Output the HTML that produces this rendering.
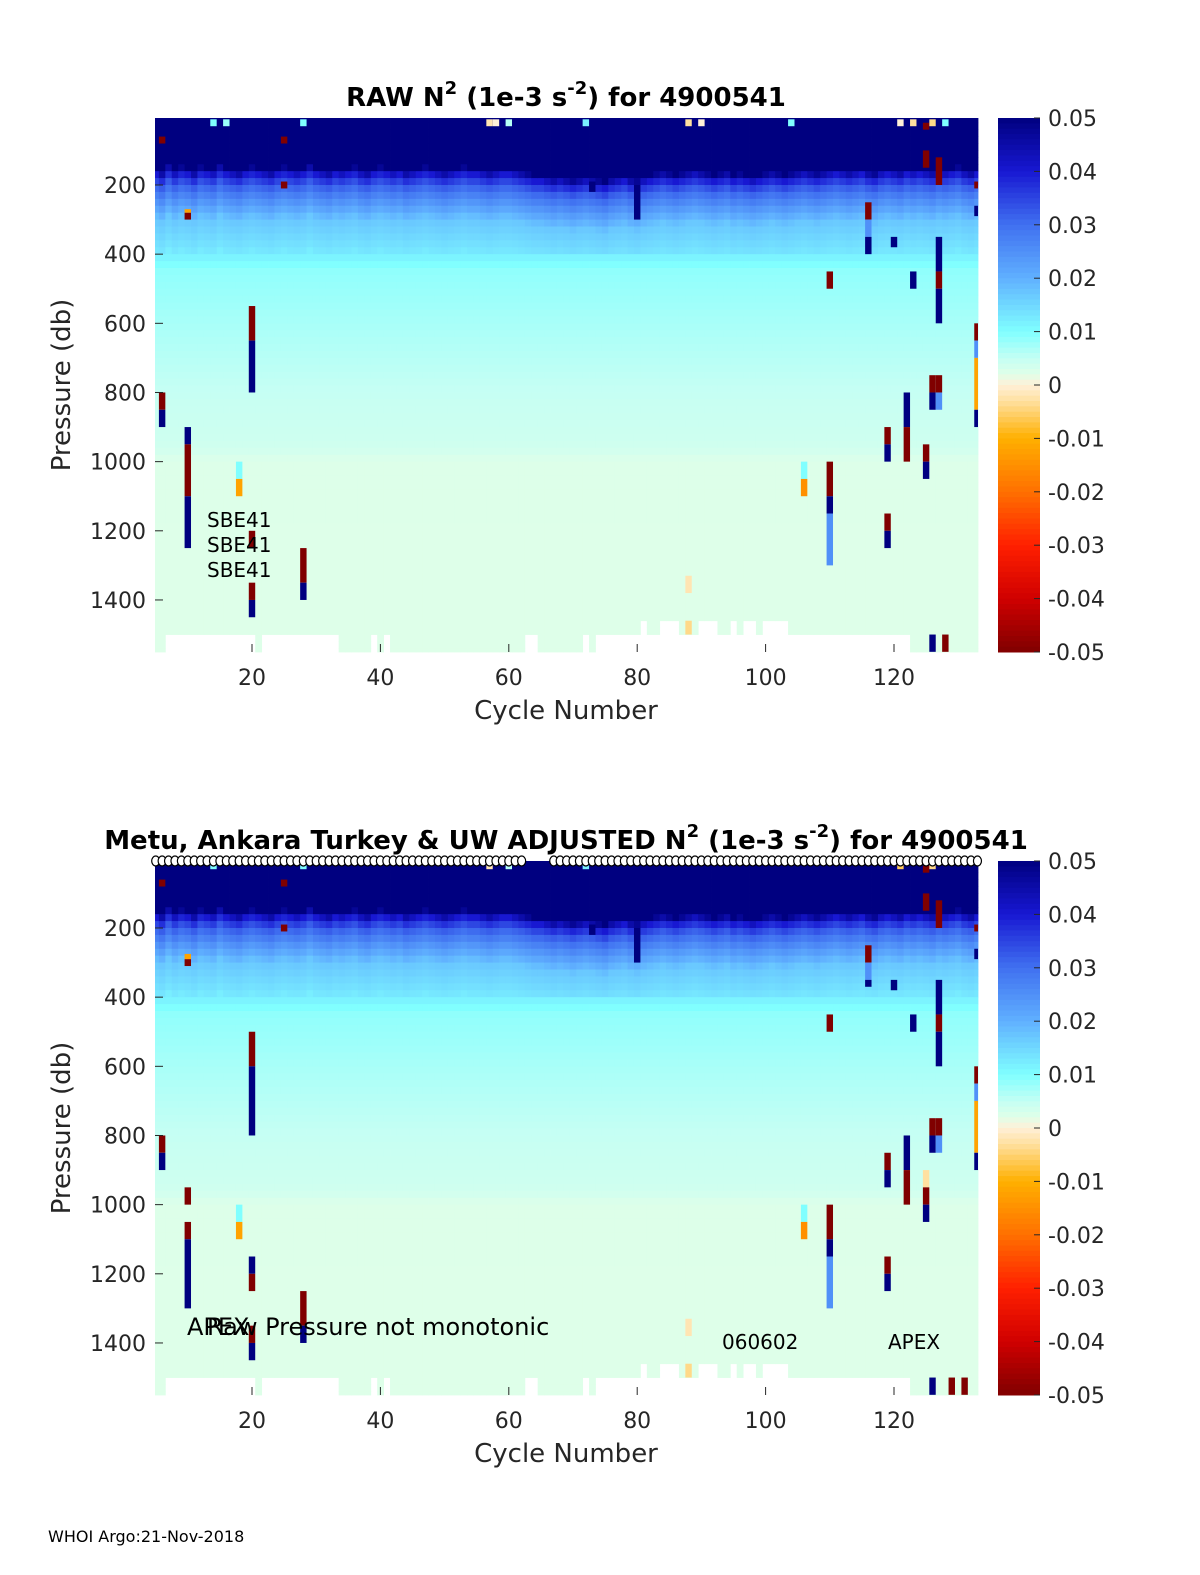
<!DOCTYPE html>
<html><head><meta charset="utf-8"><style>
html,body{margin:0;padding:0;background:#fff;overflow:hidden;width:1200px;height:1575px;}
svg{display:block;}
svg text{font-family:"DejaVu Sans","Liberation Sans",sans-serif;}
</style></head><body>
<svg id="fig" width="1200" height="1575" viewBox="0 0 1200 1575" xmlns="http://www.w3.org/2000/svg">
<rect width="1200" height="1575" fill="#fff"/>
</svg>
<script>
// ---- data ----
const cycleStart = 5, cycleEnd = 133;
const profileP = [0,150,170,200,250,300,390,420,450,620,800,960,1000,1550];
const profileV = [0.05,0.05,0.04,0.032,0.024,0.017,0.013,0.0105,0.0088,0.0068,0.0048,0.0038,0.0023,0.0022];
// per-cycle shift of surface layer (db), cycles 5..133
const layerShift = [0,10,-10,5,-5,0,10,-5,0,5,-10,0,5,10,0,-5,0,5,10,0,-5,0,5,0,-10,0,5,10,0,5,
 0,-5,5,10,0,-5,0,5,0,10,5,0,-5,0,5,10,5,0,-5,0,0,5,10,5,0,0,5,10,15,20,
 20,25,30,25,30,35,30,25,30,35,40,30,25,20,30,35,25,20,15,10,15,20,15,10,5,10,15,20,15,10,
 20,15,20,25,20,15,10,15,20,15,10,5,10,15,10,5,0,5,10,5,0,10,15,5,0,5,10,0,5,0,
 5,10,0,5,0,-5,5,10,0];
// max pressure reached per cycle
const maxP = [1550,1550,1500,1500,1500,1500,1500,1500,1500,1500,1500,1500,1500,1500,1500,1500,1550,1500,1500,1500,
 1500,1500,1500,1500,1500,1500,1500,1500,1500,1550,1550,1550,1550,1550,1500,1550,1500,1550,1550,1550,
 1550,1550,1550,1550,1550,1550,1550,1550,1550,1550,1550,1550,1550,1550,1550,1550,1550,1550,1500,1500,
 1550,1550,1550,1550,1550,1550,1550,1500,1550,1500,1500,1500,1500,1500,1500,1500,1450,1500,1500,1450,
 1450,1450,1500,1500,1500,1450,1450,1450,1500,1500,1450,1500,1450,1450,1500,1450,1450,1450,1450,1500,
 1500,1500,1500,1500,1500,1500,1500,1500,1500,1500,1500,1500,1500,1500,1500,1500,1500,1500,1550,1550,
 1550,1550,1550,1550,1550,1550,1550,1550,1550];
// outliers: [cycle, p0, p1, value]
const outRaw = [
 [6,800,850,-0.05],[6,850,900,0.05],[6,60,80,-0.05],
 [10,900,950,0.05],[10,950,1100,-0.05],[10,1100,1250,0.05],[10,280,300,-0.05],[10,270,280,-0.012],
 [18,1000,1050,0.01],[18,1050,1100,-0.012],
 [20,550,650,-0.05],[20,650,800,0.05],[20,1200,1250,-0.05],[20,1350,1400,-0.05],[20,1400,1450,0.05],
 [28,1250,1350,-0.05],[28,1350,1400,0.05],[25,60,80,-0.05],[25,190,210,-0.05],
 [80,200,300,0.05],[73,190,220,0.05],
 [110,450,500,-0.05],[110,1000,1100,-0.05],[110,1100,1150,0.05],[110,1150,1300,0.025],
 [106,1000,1050,0.01],[106,1050,1100,-0.015],
 [116,250,300,-0.05],[116,300,350,0.025],[116,350,400,0.05],
 [119,900,950,-0.05],[119,950,1000,0.05],[119,1150,1200,-0.05],[119,1200,1250,0.05],
 [120,350,380,0.05],[122,800,900,0.05],[122,900,1000,-0.05],[123,450,500,0.05],
 [125,950,1000,-0.05],[125,1000,1050,0.05],[125,100,150,-0.05],[125,20,40,-0.05],
 [126,750,800,-0.05],[126,800,850,0.05],[127,750,800,-0.05],[127,800,850,0.025],
 [127,350,450,0.05],[127,450,500,-0.05],[127,500,600,0.05],[127,120,200,-0.05],
 [133,600,650,-0.05],[133,650,700,0.025],[133,700,850,-0.012],[133,850,900,0.05],[133,190,210,-0.05],[133,260,290,0.05],
 [126,1500,1550,0.05],[128,1500,1550,-0.05],
 [88,1330,1380,-0.002],[88,1460,1500,-0.004],
 [14,10,30,0.01],[16,10,30,0.008],[28,10,30,0.01],[57,10,30,-0.002],[58,10,30,0.0],[60,10,30,0.006],
 [72,10,30,0.012],[88,10,30,-0.003],[90,10,30,0.0],[104,10,30,0.01],[121,10,30,0.0],[123,10,30,-0.003],[126,10,30,-0.004],[128,10,30,0.01]
];
const outAdj = [
 [6,800,850,-0.05],[6,850,900,0.05],[6,60,80,-0.05],
 [10,950,1000,-0.05],[10,1050,1100,-0.05],[10,1100,1300,0.05],[10,290,310,-0.05],[10,275,290,-0.012],
 [18,1000,1050,0.01],[18,1050,1100,-0.012],
 [20,500,600,-0.05],[20,600,800,0.05],[20,1150,1200,0.05],[20,1200,1250,-0.05],[20,1350,1400,-0.05],[20,1400,1450,0.05],
 [28,1250,1350,-0.05],[28,1350,1400,0.05],[25,60,80,-0.05],[25,190,210,-0.05],
 [80,200,300,0.05],[73,190,220,0.05],
 [110,450,500,-0.05],[110,1000,1100,-0.05],[110,1100,1150,0.05],[110,1150,1300,0.025],
 [106,1000,1050,0.01],[106,1050,1100,-0.015],
 [116,250,300,-0.05],[116,300,350,0.025],[116,350,370,0.05],
 [119,850,900,-0.05],[119,900,950,0.05],[119,1150,1200,-0.05],[119,1200,1250,0.05],
 [120,350,380,0.05],[122,800,900,0.05],[122,900,1000,-0.05],[123,450,500,0.05],
 [125,900,950,-0.003],[125,950,1000,-0.05],[125,1000,1050,0.05],[125,100,150,-0.05],[125,20,40,-0.05],
 [126,750,800,-0.05],[126,800,850,0.05],[127,750,800,-0.05],[127,800,850,0.025],
 [127,350,450,0.05],[127,450,500,-0.05],[127,500,600,0.05],[127,120,200,-0.05],
 [133,600,650,-0.05],[133,650,700,0.025],[133,700,850,-0.012],[133,850,900,0.05],[133,190,210,-0.05],[133,260,290,0.05],
 [126,1500,1550,0.05],[129,1500,1550,-0.05],[131,1500,1550,-0.05],
 [88,1330,1380,-0.002],[88,1460,1500,-0.004],
 [14,10,30,0.01],[28,10,30,0.01],[57,10,30,-0.002],[60,10,30,0.006],[72,10,30,0.012],[121,10,30,-0.006],[126,10,30,-0.004]
];
const xTicks = [20,40,60,80,100,120];
const yTicks = [200,400,600,800,1000,1200,1400];
const cbTicks = [0.05,0.04,0.03,0.02,0.01,0,-0.01,-0.02,-0.03,-0.04,-0.05];
const cbLabels = ["0.05","0.04","0.03","0.02","0.01","0","-0.01","-0.02","-0.03","-0.04","-0.05"];

// ---- colormap ----
const cmapV = [-0.05,-0.04,-0.03,-0.02,-0.01,-0.003,0,0.002,0.005,0.01,0.02,0.03,0.04,0.05];
const cmapC = [[128,0,0],[208,0,0],[255,32,0],[255,112,0],[255,176,0],[255,224,160],[255,240,216],[224,255,232],[196,255,244],[128,255,255],[96,176,255],[64,112,240],[24,24,210],[0,0,128]];
function cmap(v){
  v=Math.max(-0.05,Math.min(0.05,v));
  for(let i=0;i<cmapV.length-1;i++){
    if(v<=cmapV[i+1]){const t=(v-cmapV[i])/(cmapV[i+1]-cmapV[i]);const a=cmapC[i],b=cmapC[i+1];
      return `rgb(${Math.round(a[0]+(b[0]-a[0])*t)},${Math.round(a[1]+(b[1]-a[1])*t)},${Math.round(a[2]+(b[2]-a[2])*t)})`;}
  }
  return 'rgb(0,0,128)';
}
function interp(p){
  if(p<=profileP[0])return profileV[0];
  for(let i=0;i<profileP.length-1;i++){ if(p<=profileP[i+1]){const t=(p-profileP[i])/(profileP[i+1]-profileP[i]);return profileV[i]+(profileV[i+1]-profileV[i])*t;} }
  return profileV[profileV.length-1];
}
const NS='http://www.w3.org/2000/svg';
const svg=document.getElementById('fig');
function el(tag,attrs,parent){const e=document.createElementNS(NS,tag);for(const k in attrs)e.setAttribute(k,attrs[k]);(parent||svg).appendChild(e);return e;}

function panel(top, outliers, prefix){
  const L=155,R=978,T=top,B=top+534;
  const xs=c=>252+(c-20)*6.42;
  const ys=p=>T+67+(p-200)*0.3458;
  const g=el('g',{});
  
  
  const dp=20;
  for(let c=cycleStart;c<=cycleEnd;c++){
    const sh=layerShift[c-cycleStart];
    const x0=Math.max(L,xs(c-0.5)), x1=Math.min(R,xs(c+0.5));
    for(let p=0;p<maxP[c-cycleStart];p+=dp){
      const pe=p<400?p-sh:p;
      const v=interp(pe+dp/2);
      const y0=Math.max(T,ys(p)), y1=ys(p+dp);
      if(y1<=T)continue;
      const r=el('rect',{x:x0,y:y0,width:x1-x0+0.4,height:Math.min(B,y1)-y0+0.4,fill:cmap(v)},g);
      
      
    }
  }
  for(const o of outliers){
    const x0=Math.max(L,xs(o[0]-0.5)), x1=Math.min(R,xs(o[0]+0.5));
    const y0=Math.max(T,ys(o[1])), y1=Math.min(B,ys(o[2]));
    const r=el('rect',{x:x0,y:y0,width:x1-x0,height:y1-y0,fill:cmap(o[3])},g);
    
    
  }
  const ax=el('g',{});
  
  
  for(const t of xTicks){
    el('line',{x1:xs(t),x2:xs(t),y1:B,y2:B-8,stroke:'#262626','stroke-width':1},ax);
    const tx=el('text',{x:xs(t),y:B+33,'font-size':22,'text-anchor':'middle',fill:'#262626'},ax);
    tx.textContent=t;
    
    
  }
  for(const t of yTicks){
    el('line',{x1:L,x2:L+8,y1:ys(t),y2:ys(t),stroke:'#262626','stroke-width':1},ax);
    const ty=el('text',{x:L-9,y:ys(t)+8,'font-size':22,'text-anchor':'end',fill:'#262626'},ax);
    ty.textContent=t;
    
    
  }
  const xt=el('text',{x:566,y:B+67,'font-size':26,'text-anchor':'middle',fill:'#262626'});
  xt.textContent='Cycle Number';
  
  
  const yt=el('text',{x:0,y:0,'font-size':26,'text-anchor':'middle',fill:'#262626',transform:`translate(70,${(T+B)/2}) rotate(-90)`});
  yt.textContent='Pressure (db)';
  
  
  const cb=el('g',{});
  
  
  const n=100;
  for(let i=0;i<n;i++){
    const v=0.05-(i+0.5)*0.1/n;
    el('rect',{x:998,y:T+i*534/n,width:42,height:534/n+0.5,fill:cmap(v)},cb);
  }
  cbTicks.forEach((t,i)=>{
    const y=T+(0.05-t)/0.1*534;
    el('line',{x1:1034,x2:1040,y1:y,y2:y,stroke:'#262626'},cb);
    const tl=el('text',{x:1048,y:y+8,'font-size':22,fill:'#262626'},cb);
    tl.textContent=cbLabels[i];
    
    
  });
  return {xs,ys,T,B};
}

const p1=panel(118,outRaw,'raw');
const p2=panel(861,outAdj,'adjusted');

const mk=el('g',{});


for(let c=cycleStart;c<=cycleEnd;c++){
  if(c>=63&&c<=66)continue;
  el('ellipse',{cx:p2.xs(c),cy:861,rx:4,ry:5,fill:'#fff',stroke:'#000','stroke-width':1.2},mk);
}
</script>
<svg style="position:absolute;left:0;top:0" width="1200" height="1575" xmlns="http://www.w3.org/2000/svg">
<text x="566" y="106" font-size="26" font-weight="bold" text-anchor="middle" font-family="DejaVu Sans, sans-serif">RAW N<tspan dy="-12" font-size="18">2</tspan><tspan dy="12"> (1e-3 s</tspan><tspan dy="-12" font-size="18">-2</tspan><tspan dy="12">) for 4900541</tspan></text>
<text x="566" y="849" font-size="26" font-weight="bold" text-anchor="middle" font-family="DejaVu Sans, sans-serif">Metu, Ankara Turkey &amp; UW  ADJUSTED N<tspan dy="-12" font-size="18">2</tspan><tspan dy="12"> (1e-3 s</tspan><tspan dy="-12" font-size="18">-2</tspan><tspan dy="12">) for 4900541</tspan></text>
<g font-family="DejaVu Sans, sans-serif" font-size="20" fill="#000">
<text x="207" y="527">SBE41</text>
<text x="207" y="552">SBE41</text>
<text x="207" y="577">SBE41</text>
<text x="187" y="1335" font-size="24">APEX</text>
<text x="207" y="1335" font-size="24">Raw Pressure not monotonic</text>
<text x="722" y="1349">060602</text>
<text x="888" y="1349">APEX</text>
<text x="48" y="1542" font-size="16">WHOI Argo:21-Nov-2018</text>
</g>
</svg>
</body></html>
